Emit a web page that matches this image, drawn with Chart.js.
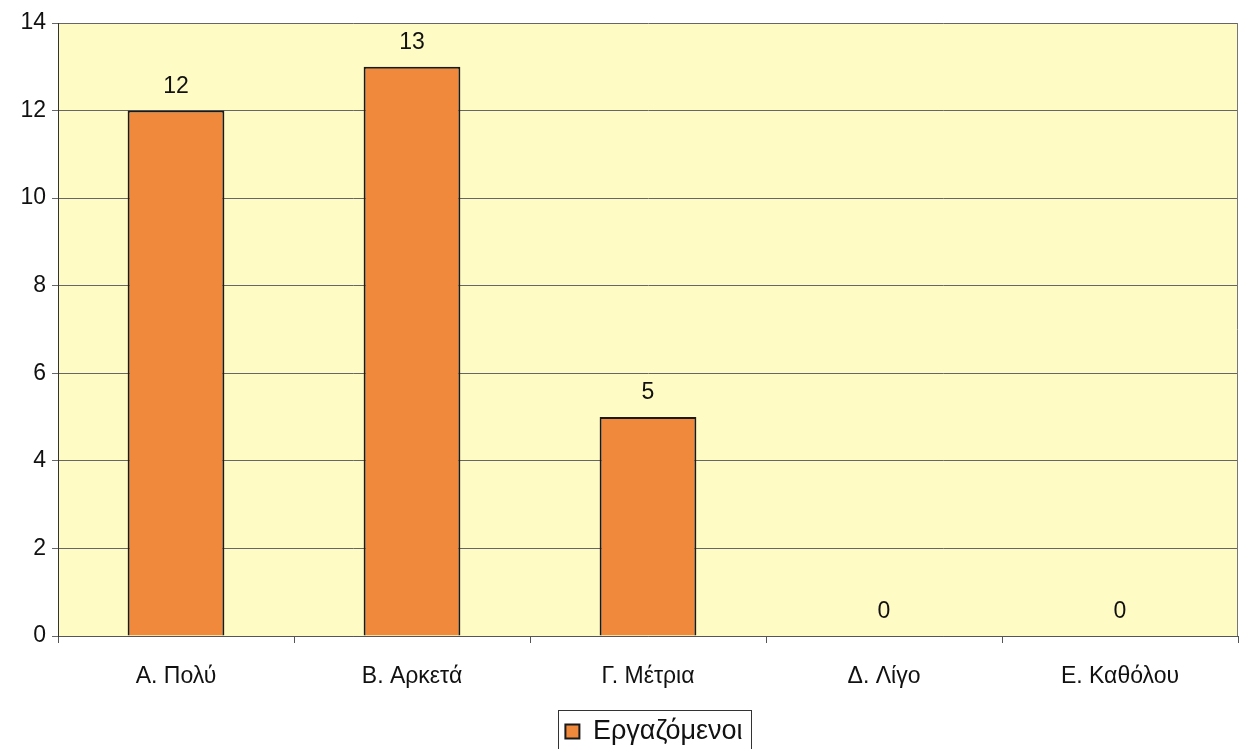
<!DOCTYPE html>
<html>
<head>
<meta charset="utf-8">
<script src="https://cdn.jsdelivr.net/npm/chart.js@4.4.0/dist/chart.umd.min.js"></script>
<style>
  html, body { margin: 0; padding: 0; background: #fff; }
  #wrap { width: 1240px; height: 749px; }
</style>
</head>
<body>
<div id="wrap"><canvas id="chart"></canvas></div>
<script>
const categories = ['Α. Πολύ', 'Β. Αρκετά', 'Γ. Μέτρια', 'Δ. Λίγο', 'Ε. Καθόλου'];
const working = [12, 13, 5, 0, 0];
const seriesName = 'Εργαζόμενοι';

const FONT = '"Liberation Sans", Arial, sans-serif';

const plotBg = {
    id: 'plotBg',
    afterLayout(chart) {
        // the legend sits a little right of and below the centre
        const lg = chart.legend;
        lg.left += 35; lg.right += 35;
        lg.top += 6; lg.bottom += 6;
    },
    beforeDraw(chart) {
        const { ctx, chartArea: a } = chart;
        ctx.save();
        ctx.fillStyle = '#FFFBC4';
        ctx.fillRect(a.left, a.top, a.right - a.left, a.bottom - a.top);
        ctx.restore();
    },
    afterDraw(chart) {
        const { ctx, chartArea: a } = chart;
        ctx.save();
        ctx.strokeStyle = '#777';
        ctx.lineWidth = 1;
        ctx.beginPath();
        ctx.moveTo(a.right - 0.5, a.top);
        ctx.lineTo(a.right - 0.5, a.bottom);
        ctx.stroke();
        // frame round the legend item only
        const lg = chart.legend;
        ctx.font = '27px ' + FONT;
        const w = 14 + 27 / 2 + ctx.measureText(seriesName).width;
        const x0 = lg.left + (lg.right - lg.left - w) / 2;
        const y0 = lg.top + 4;
        ctx.strokeStyle = '#333';
        ctx.strokeRect(Math.round(x0) - 6.5, Math.round(y0) - 7.5, Math.round(w) + 16, 50);
        ctx.restore();
    }
};

const valueLabels = {
    id: 'valueLabels',
    afterDatasetsDraw(chart) {
        const { ctx } = chart;
        const meta = chart.getDatasetMeta(0);
        ctx.save();
        ctx.font = '23px ' + FONT;
        ctx.fillStyle = '#111';
        ctx.textAlign = 'center';
        ctx.textBaseline = 'middle';
        meta.data.forEach((bar, i) => {
            ctx.fillText(String(working[i]), bar.x, bar.y - 24);
        });
        ctx.restore();
    }
};

document.addEventListener("DOMContentLoaded", () => {
    new Chart(document.getElementById('chart'), {
        type: 'bar',
        data: {
            labels: categories,
            datasets: [
                {
                    label: seriesName,
                    data: working,
                    backgroundColor: '#F0893B',
                    borderColor: '#1a1a1a',
                    borderWidth: 2,
                    borderSkipped: 'bottom',
                    categoryPercentage: 1,
                    barPercentage: 0.41
                }
            ]
        },
        options: {
            responsive: true,
            maintainAspectRatio: false,
            animation: false,
            devicePixelRatio: 1,
            layout: { padding: { top: 23, right: 2, left: 0, bottom: 0 } },
            plugins: {
                tooltip: { enabled: false },
                legend: {
                    position: 'bottom',
                    labels: {
                        color: '#111',
                        font: { family: FONT, size: 27 },
                        boxWidth: 14,
                        boxHeight: 14,
                        padding: 4
                    }
                }
            },
            scales: {
                x: {
                    afterFit(scale) { scale.height = 72; },
                    grid: {
                        offset: true,
                        drawOnChartArea: false,
                        drawTicks: true,
                        tickLength: 7,
                        color: '#555'
                    },
                    border: { color: '#555', width: 1 },
                    ticks: {
                        color: '#111',
                        padding: 20,
                        font: { family: FONT, size: 23 }
                    }
                },
                y: {
                    min: 0,
                    max: 14,
                    afterFit(scale) { scale.width = 58; },
                    grid: {
                        color: '#666',
                        tickLength: 6
                    },
                    border: { color: '#333', width: 1 },
                    ticks: {
                        stepSize: 2,
                        color: '#111',
                        padding: 6,
                        font: { family: FONT, size: 23 }
                    }
                }
            }
        },
        plugins: [plotBg, valueLabels]
    });
});
</script>
</body>
</html>
